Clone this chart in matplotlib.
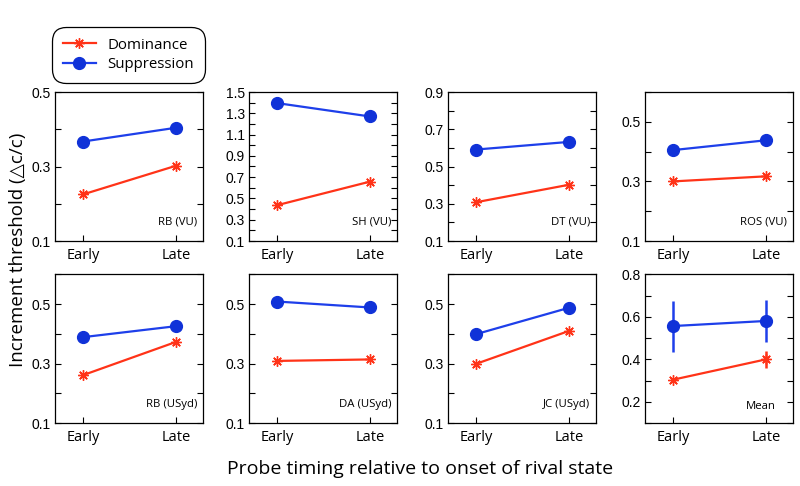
import matplotlib
matplotlib.use("Agg")
import matplotlib.pyplot as plt
import numpy as np

# ---- data ----
conditions = ["Early", "Late"]
panel_labels = ["RB (VU)", "SH (VU)", "DT (VU)", "ROS (VU)",
                "RB (USyd)", "DA (USyd)", "JC (USyd)", "Mean"]
dominance = [[0.225, 0.302], [0.436, 0.658], [0.308, 0.402], [0.300, 0.317],
             [0.261, 0.373], [0.309, 0.314], [0.299, 0.410], [0.304, 0.400]]
suppression = [[0.367, 0.404], [1.396, 1.270], [0.591, 0.632], [0.405, 0.438],
               [0.389, 0.426], [0.509, 0.489], [0.399, 0.488], [0.557, 0.581]]
mean_dom_err = [0.010, 0.040]
mean_sup_err = [0.120, 0.100]
ylims = [(0.1, 0.5), (0.1, 1.5), (0.1, 0.9), (0.1, 0.6),
         (0.1, 0.6), (0.1, 0.6), (0.1, 0.6), (0.1, 0.8)]
ylabels_ticks = [[0.1, 0.3, 0.5], [0.1, 0.3, 0.5, 0.7, 0.9, 1.1, 1.3, 1.5],
                 [0.1, 0.3, 0.5, 0.7, 0.9], [0.1, 0.3, 0.5],
                 [0.1, 0.3, 0.5], [0.1, 0.3, 0.5], [0.1, 0.3, 0.5],
                 [0.2, 0.4, 0.6, 0.8]]

RED = "#FF3318"
BLUE = "#1E3FEA"
BLUE_M = "#1032D8"
TXT = ["Open Sans", "DejaVu Sans"]
TICKF = ["Liberation Sans", "DejaVu Sans"]

fig = plt.figure(figsize=(8, 4.86), dpi=100)
W, H = 800.0, 486.0
lefts = [55, 249, 448, 645]
width = 148
rows = [(92, 241), (274.5, 423)]

x = np.arange(len(conditions))
for i in range(8):
    r, c = divmod(i, 4)
    top, bot = rows[r]
    ax = fig.add_axes([lefts[c] / W, 1 - bot / H, width / W, (bot - top) / H])
    if i == 7:
        ax.errorbar(x, suppression[i], yerr=mean_sup_err, color=BLUE, lw=1.6,
                    elinewidth=1.8, capsize=0, marker="o", ms=8.5,
                    mfc=BLUE_M, mec=BLUE_M, zorder=3)
        ax.errorbar(x, dominance[i], yerr=mean_dom_err, color=RED, lw=1.6,
                    elinewidth=1.8, capsize=0, marker=(8, 2, 0), ms=7.5,
                    mew=1.0, mec=RED, zorder=3)
    else:
        ax.plot(x, suppression[i], color=BLUE, lw=1.6, marker="o", ms=8.5,
                mfc=BLUE_M, mec=BLUE_M, zorder=3)
        ax.plot(x, dominance[i], color=RED, lw=1.6, marker=(8, 2, 0), ms=7.5,
                mew=1.0, mec=RED, zorder=3)
    ax.set_xlim(-0.3, 1.29)
    lo, hi = ylims[i]
    ax.set_ylim(lo, hi)
    ax.set_xticks(x)
    ax.set_xticklabels(conditions, fontfamily=TXT, fontsize=10.5)
    allt = np.round(np.arange(lo, hi + 1e-9, 0.1), 2)
    ax.set_yticks(allt)
    lab = set(np.round(ylabels_ticks[i], 2))
    ax.set_yticklabels([("%.1f" % t) if round(t, 2) in lab else "" for t in allt],
                       fontfamily=TICKF, fontsize=10)
    ax.tick_params(axis="y", direction="in", left=True, right=True, length=4,
                   width=0.8, pad=3)
    ax.tick_params(axis="x", direction="in", bottom=True, top=False, length=4,
                   width=0.8, pad=5)
    for s in ax.spines.values():
        s.set_linewidth(0.9)
    lx = 0.96 if i != 7 else 0.885
    ly = 0.125 if i != 7 else 0.11
    ax.text(lx, ly, panel_labels[i], transform=ax.transAxes, ha="right",
            va="center", fontsize=8.2, fontfamily=TXT)
    if i == 0:
        hd, = ax.plot([], [], color=RED, lw=1.6, marker=(8, 2, 0), ms=7.5, mew=1.0,
                      mec=RED, label="Dominance")
        hs, = ax.plot([], [], color=BLUE, lw=1.6, marker="o", ms=8.5,
                      mfc=BLUE_M, mec=BLUE_M, label="Suppression")
        leg = fig.legend(handles=[hd, hs], loc="center",
                         bbox_to_anchor=(128.5 / W, 1 - 55 / H),
                         frameon=True, fancybox=True, edgecolor="black",
                         framealpha=1, prop={"family": TXT, "size": 10.8},
                         handlelength=2.2, borderpad=0.5, labelspacing=0.3,
                         handletextpad=0.8)
        leg.get_frame().set_linewidth(0.9)
        leg.get_frame().set_boxstyle("round,pad=0.2,rounding_size=0.9")

fig.text(18 / W, 1 - 250 / H, "Increment threshold (\u25B3c/c)", rotation=90,
         ha="center", va="center", fontsize=13.5, fontfamily=TXT)
fig.text(420 / W, 1 - 469 / H, "Probe timing relative to onset of rival state",
         ha="center", va="center", fontsize=14, fontfamily=TXT)

fig.savefig("out.png", dpi=100)
